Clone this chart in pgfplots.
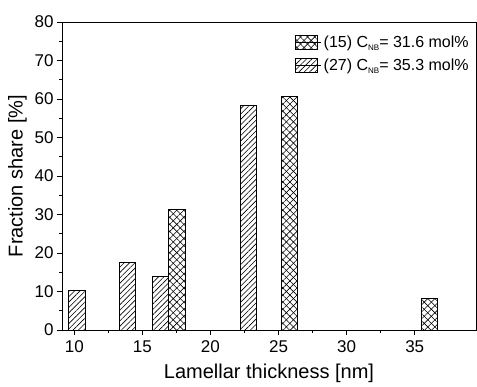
\documentclass[border=0pt]{standalone}
\usepackage{fontspec}
\setmainfont{Liberation Sans}
\usepackage{pgfplots}
\pgfplotsset{compat=1.18}
\usetikzlibrary{patterns,patterns.meta}
\newcommand{\sub}[1]{\raisebox{-0.35ex}{\fontsize{8}{8}\selectfont #1}}
\pgfplotsset{mylegend/.style={legend image code/.code={\draw[##1] (0pt,-7pt) rectangle (22pt,7pt); \path (0pt,0pt) -- (26pt,0pt);}}}
\begin{document}
\begin{tikzpicture}
\useasboundingbox (-62pt,-57pt) rectangle (415pt,330pt);
\begin{axis}[
  scale only axis, width=414pt, height=308pt,
  at={(0,0)}, anchor=south west,
  xmin=9.1, xmax=39.5, ymin=0, ymax=80,
  xtick={10,15,...,35}, minor x tick num=1,
  ytick={0,10,...,80}, minor y tick num=1,
  tick align=outside, tick pos=left,
  major tick length=5pt, minor tick length=3pt,
  every tick/.style={black, line width=0.8pt},
  axis line style={line width=0.8pt},
  tick label style={font=\fontsize{17}{19}\selectfont},
  xticklabel style={yshift=-2pt},
  label style={font=\fontsize{20}{22}\selectfont},
  /pgf/number format/assume math mode=true,
  xlabel={Lamellar thickness [nm]},
  ylabel={Fraction share [\%]},
  xlabel style={yshift=-5pt},
  ylabel style={yshift=1pt},
  legend style={at={(0.99,0.965)}, anchor=north east, draw=none, fill=none,
    font=\fontsize{16}{18}\selectfont, row sep=6pt, inner sep=1pt},
  legend cell align=left,
]
\addplot[ybar, bar width=1.2, bar shift=0pt, draw=black, line width=0.8pt,
  pattern={Lines[angle=45,distance=5pt,line width=0.6pt]},
  postaction={pattern={Lines[angle=-45,distance=5pt,line width=0.6pt]}},
  mylegend]
  coordinates {(17.53,31.2) (25.8,60.6) (36.1,8.2)};
\addlegendentry{(15) C\sub{NB}= 31.6 mol\%}
\addplot[ybar, bar width=1.2, bar shift=0pt, draw=black, line width=0.8pt,
  pattern={Lines[angle=45,distance=3.8pt,line width=0.6pt]},
  mylegend]
  coordinates {(10.2,10.2) (13.9,17.6) (16.33,13.8) (22.78,58.3)};
\addlegendentry{(27) C\sub{NB}= 35.3 mol\%}
\end{axis}
\end{tikzpicture}
\end{document}
